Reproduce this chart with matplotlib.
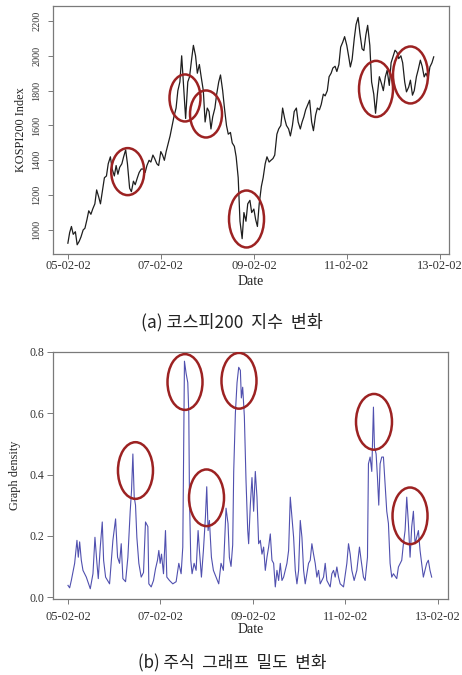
import numpy as np
import pandas as pd
import matplotlib
matplotlib.use("Agg")
import matplotlib.pyplot as plt
import matplotlib.dates as mdates
from matplotlib.patches import Ellipse

# ---------------- data ----------------
# KOSPI200 index, semi-monthly samples from 2005-02 to 2012-12
kospi = [
    924, 985, 1020, 975, 990, 915, 935, 960, 1000, 1010, 1060, 1110,
    1090, 1120, 1150, 1230, 1190, 1150, 1230, 1300, 1310, 1380,
    1420, 1350, 1310, 1370, 1320, 1360, 1380, 1420, 1460, 1380, 1240, 1220,
    1280, 1260, 1300, 1330, 1350, 1350, 1330, 1370, 1400, 1390, 1430, 1410,
    1380, 1370, 1450, 1430, 1400, 1450, 1500, 1540, 1600, 1650, 1700, 1800,
    1850, 2000, 1800, 1640, 1850, 1880, 1980, 2060, 2000, 1900, 1950, 1880,
    1800, 1620, 1700, 1680, 1580, 1650, 1700, 1780, 1850, 1890, 1800, 1700,
    1600, 1550, 1560, 1500, 1480, 1420, 1300, 1050, 950, 1100, 1050, 1150,
    1170, 1100, 1120, 1060, 1020, 1150, 1250, 1300, 1380, 1420, 1390, 1400,
    1410, 1430, 1550, 1580, 1600, 1700, 1640, 1600, 1580, 1540, 1600, 1680,
    1700, 1620, 1580, 1620, 1650, 1690, 1720, 1745, 1620, 1570, 1660, 1700,
    1690, 1720, 1780, 1770, 1800, 1880, 1900, 1930, 1940, 1910, 1950, 2050,
    2080, 2110, 2060, 2000, 1936, 1980, 2100, 2180, 2220, 2130, 2040, 2030,
    2120, 2175, 2060, 1850, 1780, 1670, 1790, 1880, 1840, 1800, 1880, 1917,
    1830, 1960, 2000, 2032, 2020, 1984, 2000, 1960, 1850, 1793, 1820, 1860,
    1774, 1800, 1880, 1920, 1975, 1940, 1879, 1900, 1870, 1936, 1960, 1994,
]

# Graph density: time (decimal year) and value
dens_year = [
    2005.088, 2005.124, 2005.160, 2005.232, 2005.282, 2005.311, 2005.340, 2005.376,
    2005.412, 2005.484, 2005.570, 2005.628, 2005.671, 2005.714, 2005.743, 2005.786,
    2005.829, 2005.858, 2005.901, 2005.987, 2006.059, 2006.117, 2006.160, 2006.203,
    2006.239, 2006.275, 2006.333, 2006.383, 2006.433, 2006.462, 2006.491, 2006.520,
    2006.548, 2006.577, 2006.620, 2006.671, 2006.721, 2006.764, 2006.815, 2006.836,
    2006.887, 2006.937, 2006.980, 2007.023, 2007.052, 2007.081, 2007.110, 2007.153,
    2007.196, 2007.225, 2007.282, 2007.354, 2007.426, 2007.484, 2007.534, 2007.570,
    2007.606, 2007.642, 2007.678, 2007.700, 2007.714, 2007.743, 2007.771, 2007.815,
    2007.858, 2007.901, 2007.930, 2007.973, 2008.016, 2008.059, 2008.088, 2008.117,
    2008.146, 2008.189, 2008.232, 2008.289, 2008.347, 2008.397, 2008.448, 2008.505,
    2008.548, 2008.577, 2008.613, 2008.649, 2008.671, 2008.707, 2008.743, 2008.779,
    2008.815, 2008.836, 2008.865, 2008.901, 2008.937, 2008.973, 2008.994, 2009.030,
    2009.066, 2009.102, 2009.138, 2009.174, 2009.210, 2009.246, 2009.282, 2009.318,
    2009.354, 2009.390, 2009.426, 2009.462, 2009.498, 2009.534, 2009.570, 2009.606,
    2009.642, 2009.678, 2009.714, 2009.750, 2009.822, 2009.858, 2009.894, 2009.930,
    2009.966, 2010.002, 2010.038, 2010.074, 2010.110, 2010.146, 2010.182, 2010.217,
    2010.289, 2010.325, 2010.361, 2010.397, 2010.433, 2010.469, 2010.505, 2010.541,
    2010.613, 2010.649, 2010.685, 2010.757, 2010.793, 2010.829, 2010.865, 2010.901,
    2010.937, 2010.973, 2011.045, 2011.117, 2011.153, 2011.189, 2011.225, 2011.275,
    2011.333, 2011.390, 2011.426, 2011.476, 2011.512, 2011.563, 2011.584, 2011.620,
    2011.656, 2011.692, 2011.714, 2011.750, 2011.779, 2011.807, 2011.836, 2011.872,
    2011.908, 2011.944, 2011.980, 2012.016, 2012.052, 2012.088, 2012.124, 2012.196,
    2012.232, 2012.304, 2012.340, 2012.376, 2012.412, 2012.448, 2012.484, 2012.520,
    2012.556, 2012.592, 2012.628, 2012.664, 2012.700, 2012.735, 2012.771, 2012.807,
    2012.843, 2012.879, 2012.915, 2012.951,
]
dens_value = [
    0.038, 0.030, 0.054, 0.110, 0.185, 0.130, 0.180, 0.120,
    0.087, 0.065, 0.027, 0.076, 0.195, 0.110, 0.060, 0.163,
    0.245, 0.120, 0.065, 0.043, 0.185, 0.255, 0.130, 0.110,
    0.174, 0.060, 0.050, 0.130, 0.280, 0.348, 0.467, 0.326,
    0.300, 0.195, 0.110, 0.065, 0.080, 0.245, 0.230, 0.043,
    0.033, 0.054, 0.092, 0.120, 0.152, 0.110, 0.140, 0.076,
    0.217, 0.065, 0.054, 0.043, 0.050, 0.110, 0.076, 0.163,
    0.770, 0.730, 0.700, 0.600, 0.330, 0.120, 0.076, 0.110,
    0.087, 0.217, 0.152, 0.065, 0.152, 0.260, 0.360, 0.217,
    0.250, 0.130, 0.087, 0.065, 0.043, 0.110, 0.087, 0.290,
    0.240, 0.130, 0.100, 0.170, 0.410, 0.600, 0.700, 0.750,
    0.740, 0.650, 0.685, 0.590, 0.380, 0.220, 0.174, 0.300,
    0.390, 0.280, 0.410, 0.326, 0.174, 0.185, 0.140, 0.163,
    0.087, 0.130, 0.163, 0.206, 0.120, 0.110, 0.033, 0.087,
    0.054, 0.110, 0.054, 0.065, 0.110, 0.152, 0.326, 0.260,
    0.195, 0.087, 0.043, 0.087, 0.250, 0.195, 0.087, 0.043,
    0.110, 0.120, 0.174, 0.140, 0.110, 0.065, 0.087, 0.043,
    0.065, 0.110, 0.054, 0.033, 0.076, 0.087, 0.065, 0.098,
    0.065, 0.043, 0.033, 0.110, 0.174, 0.140, 0.087, 0.054,
    0.087, 0.163, 0.120, 0.065, 0.054, 0.130, 0.435, 0.457,
    0.410, 0.620, 0.490, 0.467, 0.390, 0.300, 0.435, 0.457,
    0.457, 0.370, 0.280, 0.240, 0.110, 0.065, 0.076, 0.060,
    0.098, 0.120, 0.174, 0.217, 0.326, 0.240, 0.130, 0.230,
    0.280, 0.174, 0.196, 0.217, 0.152, 0.110, 0.065, 0.087,
    0.110, 0.120, 0.087, 0.065,
]

# highlighted regions (center decimal year, center value, width in years, height)
kospi_circ_year = [2006.372, 2007.604, 2008.056, 2008.927, 2011.712, 2012.454]
kospi_circ_val = [1335, 1758, 1666, 1063, 1810, 1890]
kospi_circ_w = [0.71, 0.667, 0.688, 0.753, 0.731, 0.753]
kospi_circ_h = [270, 270, 270, 327, 322, 327]

dens_circ_year = [2006.547, 2007.618, 2008.083, 2008.785, 2011.704, 2012.483]
dens_circ_val = [0.413, 0.702, 0.324, 0.706, 0.572, 0.265]
dens_circ_w = [0.757, 0.757, 0.757, 0.757, 0.778, 0.757]
dens_circ_h = [0.185, 0.182, 0.185, 0.182, 0.182, 0.185]

tick_dates = ["2005-02-02", "2007-02-02", "2009-02-02", "2011-02-02", "2013-02-02"]
kospi_yticks = [1000, 1200, 1400, 1600, 1800, 2000, 2200]
dens_yticks = [0.0, 0.2, 0.4, 0.6, 0.8]

captions = ["(a) 코스피200  지수  변화", "(b) 주식  그래프  밀도  변화"]


def year_to_date(y):
    y = np.asarray(y, dtype=float)
    return pd.Timestamp("2005-01-01") + pd.to_timedelta((y - 2005.0) * 365.25, unit="D")


def year_to_num(y):
    return mdates.date2num(year_to_date(y))


kospi_dates = pd.date_range("2005-02-01", periods=len(kospi), freq="SMS")
dens_dates = year_to_date(dens_year)
ticks = pd.to_datetime(tick_dates)

SERIF = ["Liberation Serif", "DejaVu Serif"]
BOX = "#7a7a7a"
RED = "#9c2222"

fig = plt.figure(figsize=(4.62, 6.75), dpi=100)
ax1 = fig.add_axes([53 / 462, 1 - 254 / 675, 396 / 462, 248 / 675])
ax2 = fig.add_axes([53 / 462, 1 - 599 / 675, 395 / 462, 247 / 675])

# ---- top ----
ax1.plot(kospi_dates, kospi, color="#1e1e1e", lw=0.9)
ax1.set_xlim(year_to_num(2004.765), year_to_num(2013.282))
ax1.set_ylim(862, 2286)
ax1.set_yticks(kospi_yticks)
ax1.set_yticklabels([str(v) for v in kospi_yticks], rotation=90, va="center",
                    family=SERIF, fontsize=7.3, color="#333333")
ax1.tick_params(axis="y", length=3.6, width=0.7, color=BOX, pad=5)
ax1.set_ylabel("KOSPI200 Index", family=SERIF, fontsize=8.8, color="#222222", labelpad=4)

for cx, cy, w, h in zip(kospi_circ_year, kospi_circ_val, kospi_circ_w, kospi_circ_h):
    ax1.add_patch(Ellipse((year_to_num(cx), cy), w * 365.25, h, fill=False,
                          edgecolor=RED, lw=1.8, zorder=5))

# ---- bottom ----
ax2.plot(dens_dates, dens_value, color="#3d3da6", lw=0.8, alpha=0.9)
ax2.set_xlim(year_to_num(2004.764), year_to_num(2013.304))
ax2.set_ylim(-0.0065, 0.797)
ax2.set_yticks(dens_yticks)
ax2.set_yticklabels([f"{v:.1f}" for v in dens_yticks], family=SERIF, fontsize=8.5,
                    color="#333333")
ax2.tick_params(axis="y", length=4.3, width=0.7, color=BOX, pad=2)
ax2.set_ylabel("Graph density", family=SERIF, fontsize=8.8, color="#222222", labelpad=6)

for cx, cy, w, h in zip(dens_circ_year, dens_circ_val, dens_circ_w, dens_circ_h):
    ax2.add_patch(Ellipse((year_to_num(cx), cy), w * 365.25, h, fill=False,
                          edgecolor=RED, lw=1.8, zorder=5))

for ax, pad, lp in ((ax1, 1, 2), (ax2, 5, 0)):
    ax.set_xticks(ticks)
    ax.xaxis.set_major_formatter(mdates.DateFormatter("%y-%m-%d"))
    for lab in ax.get_xticklabels():
        lab.set_family(SERIF)
        lab.set_fontsize(9)
        lab.set_color("#333333")
    ax.tick_params(axis="x", length=3.5, width=0.7, color=BOX, pad=pad)
    ax.set_xlabel("Date", family=SERIF, fontsize=10, color="#222222", labelpad=lp)
    for s in ax.spines.values():
        s.set_color(BOX)
        s.set_linewidth(0.9)

fig.text(232 / 462, 1 - 322 / 675, captions[0], ha="center", va="center",
         family=["Noto Sans CJK KR", "DejaVu Sans"], fontsize=12.5, color="#222222")
fig.text(232 / 462, 1 - 663 / 675, captions[1], ha="center", va="center",
         family=["Noto Sans CJK KR", "DejaVu Sans"], fontsize=12.2, color="#222222")

fig.savefig("out.png", dpi=100)
